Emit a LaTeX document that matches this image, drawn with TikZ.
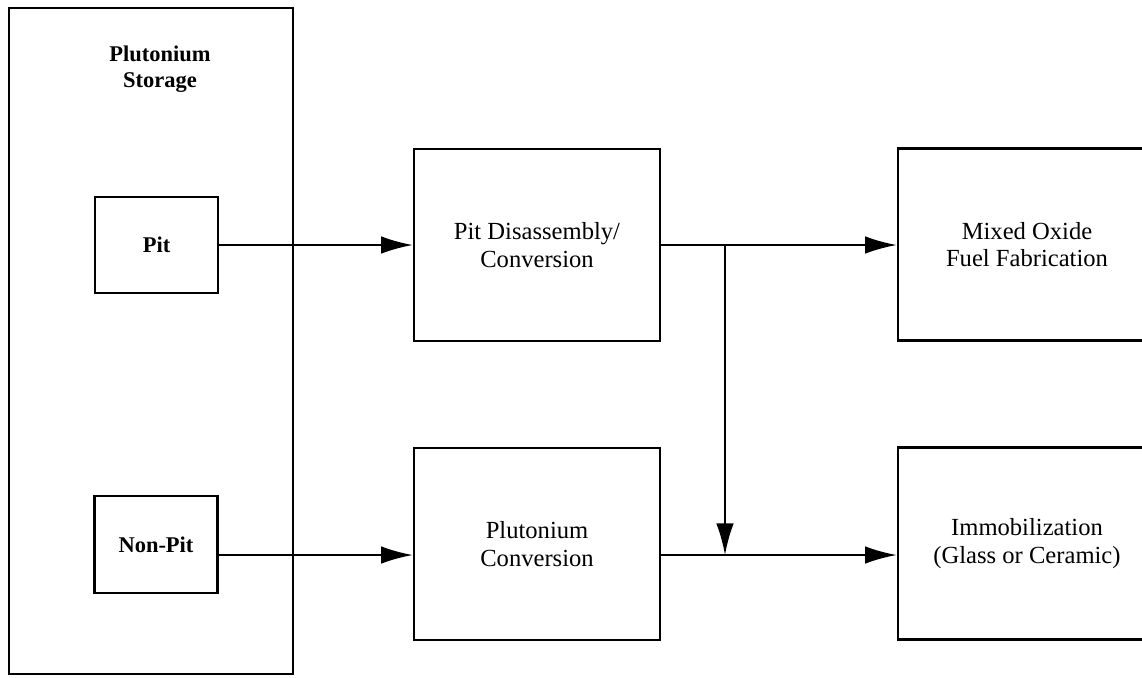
\documentclass[tikz,border=0pt]{standalone}
\usepackage{fontspec}
\setmainfont{Liberation Serif}
\usetikzlibrary{arrows.meta}

\begin{document}
\begin{tikzpicture}[
  x=0.02cm, y=-0.02cm,
  every node/.style={font=\fontsize{14}{15.5}\selectfont, align=center},
  box/.style={draw, line width=1.5pt, rectangle, inner sep=2pt},
  title/.style={font=\fontsize{12.8}{15}\selectfont\bfseries},
  flow/.style={line width=1.15pt, -{Latex[length=18pt,width=10pt]}}
]
\useasboundingbox (0,0) rectangle (1142,677);
% storage area
\node[box, minimum width=5.68cm, minimum height=13.32cm] (store) at (151,341) {};
\node[title] (storetitle) at (160,69) {Plutonium\\Storage};
\node[box, title, minimum width=2.46cm, minimum height=1.92cm] (pit) at (156.5,245) {Pit};
\node[box, title, minimum width=2.46cm, minimum height=1.94cm] (nonpit) at (156,544.5) {Non-Pit};
% processing
\node[box, minimum width=4.92cm, minimum height=3.84cm] (pd) at (537,245) {Pit Disassembly/\\Conversion};
\node[box, minimum width=4.92cm, minimum height=3.84cm] (conv) at (537,544) {Plutonium\\Conversion};
% disposition
\node[box, minimum width=5.16cm, minimum height=3.84cm] (mox) at (1027,244.5) {Mixed Oxide\\Fuel Fabrication};
\node[box, minimum width=5.16cm, minimum height=3.84cm] (immob) at (1027,543.5) {Immobilization\\(Glass or Ceramic)};
\coordinate (lowrow) at (0,555);
\coordinate (split) at (725,245);
% flows
\draw[flow] (pit.east) -- (pd.west);
\draw[flow] (nonpit.east |- lowrow) -- (conv.west |- lowrow);
\draw[line width=1.15pt] (pd.east) -- (split);
\draw[flow] (split) -- (mox.west |- split);
\draw[flow] (split) -- (split |- lowrow);
\draw[flow] (conv.east |- lowrow) -- (immob.west |- lowrow);
\end{tikzpicture}
\end{document}
